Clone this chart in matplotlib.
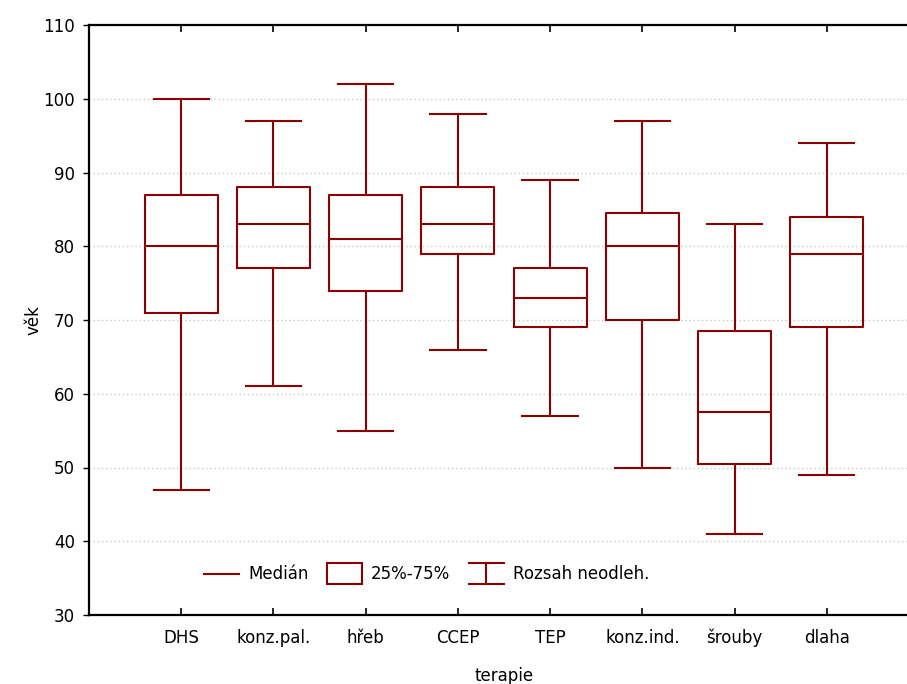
import matplotlib
matplotlib.use("Agg")
import matplotlib.pyplot as plt
from matplotlib.lines import Line2D
from matplotlib.patches import Rectangle
from matplotlib.legend_handler import HandlerBase

plt.rcParams['font.family'] = ['DejaVu Sans']

categories = ["DHS", "konz.pal.", "hřeb", "CCEP", "TEP", "konz.ind.", "šrouby", "dlaha"]
whisk_lo = [47, 61, 55, 66, 57, 50, 41, 49]
q1 = [71, 77, 74, 79, 69, 70, 50.5, 69]
median = [80, 83, 81, 83, 73, 80, 57.5, 79]
q3 = [87, 88, 87, 88, 77, 84.5, 68.5, 84]
whisk_hi = [100, 97, 102, 98, 89, 97, 83, 94]
yticks = [30, 40, 50, 60, 70, 80, 90, 100, 110]

RED = "#8b0000"
LW = 1.5
FS = 12

fig = plt.figure(figsize=(9.07, 6.84), dpi=100)
ax = fig.add_axes([89 / 907, 69 / 684, 830 / 907, 590 / 684])

stats = [dict(label=c, whislo=lo, q1=a, med=m, q3=b, whishi=hi, fliers=[])
         for c, lo, a, m, b, hi in zip(categories, whisk_lo, q1, median, q3, whisk_hi)]
pos = list(range(1, len(categories) + 1))
line_style = dict(color=RED, linewidth=LW)
ax.bxp(stats, positions=pos, widths=0.79, capwidths=0.6, showfliers=False,
       boxprops=line_style, medianprops=line_style, whiskerprops=line_style,
       capprops=line_style, zorder=3)

ax.set_xlim(0, 9)
ax.set_ylim(30, 110)
ax.set_xticks(pos)
ax.set_xticklabels(categories)
ax.set_yticks(yticks)
ax.yaxis.grid(True, linestyle=(0, (1, 2)), color="#c8c8c8", linewidth=1.0, zorder=0)

ax.tick_params(axis='x', direction='in', top=True, length=5, width=1.2,
               labelsize=FS, pad=10, colors='black')
ax.tick_params(axis='y', direction='out', length=4, width=1.0, labelsize=FS, pad=6)
for side in ("left", "bottom", "top"):
    ax.spines[side].set_linewidth(1.6)
ax.spines["right"].set_visible(False)

ax.set_ylabel("věk", fontsize=FS, labelpad=0.5)
ax.set_xlabel("terapie", fontsize=FS, labelpad=14)


class RangeHandler(HandlerBase):
    def create_artists(self, legend, orig_handle, xdescent, ydescent,
                       width, height, fontsize, trans):
        x0, x1 = -xdescent, -xdescent + width
        xm = (x0 + x1) / 2
        y0, y1 = -ydescent - 0.4 * height, -ydescent + 1.4 * height
        arts = [Line2D([x0, x1], [y0, y0]), Line2D([x0, x1], [y1, y1]),
                Line2D([xm, xm], [y0, y1])]
        for a in arts:
            a.set_color(RED)
            a.set_linewidth(LW)
            a.set_transform(trans)
        return arts


class BoxHandler(HandlerBase):
    def create_artists(self, legend, orig_handle, xdescent, ydescent,
                       width, height, fontsize, trans):
        r = Rectangle((-xdescent, -ydescent - 0.4 * height), width, 1.8 * height,
                      facecolor='white', edgecolor=RED, linewidth=LW, transform=trans)
        return [r]


med_h = Line2D([], [], color=RED, linewidth=LW)
box_h = Rectangle((0, 0), 1, 1)
rng_h = object()
leg = ax.legend([med_h, box_h, rng_h], ["Medián", "25%-75%", "Rozsah neodleh."],
                handler_map={Rectangle: BoxHandler(), object: RangeHandler()},
                ncol=3, frameon=False, loc='lower left',
                bbox_to_anchor=(100 / 830, 0.028), fontsize=FS,
                handlelength=2.1, handletextpad=0.55, columnspacing=1.1)

fig.savefig("out.png", dpi=100)
